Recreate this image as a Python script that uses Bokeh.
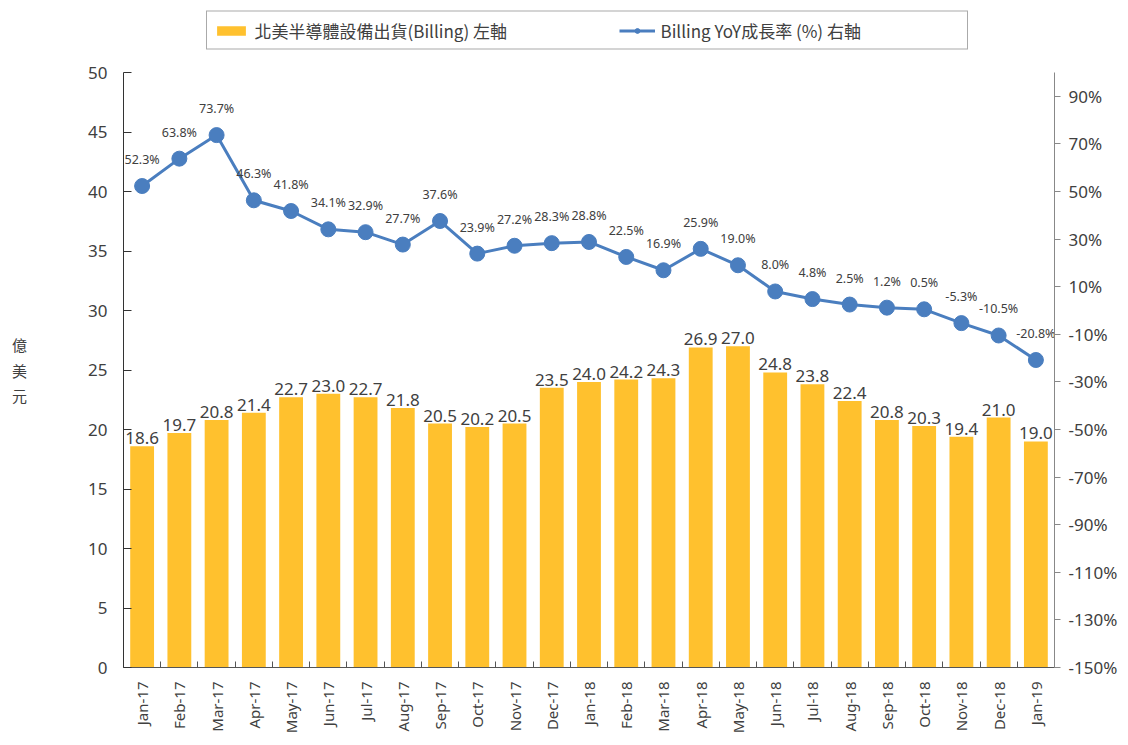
import math
from bokeh.plotting import figure
from bokeh.layouts import column
from bokeh.models import (Range1d, LinearAxis, FixedTicker, PrintfTickFormatter,
                          ColumnDataSource, Legend, LegendItem)
from bokeh.core.properties import value
from bokeh.embed import file_html
from bokeh.resources import INLINE

months = ["Jan-17", "Feb-17", "Mar-17", "Apr-17", "May-17", "Jun-17", "Jul-17", "Aug-17",
          "Sep-17", "Oct-17", "Nov-17", "Dec-17", "Jan-18", "Feb-18", "Mar-18", "Apr-18",
          "May-18", "Jun-18", "Jul-18", "Aug-18", "Sep-18", "Oct-18", "Nov-18", "Dec-18", "Jan-19"]
billing = [18.6, 19.7, 20.8, 21.4, 22.7, 23.0, 22.7, 21.8, 20.5, 20.2, 20.5, 23.5, 24.0,
           24.2, 24.3, 26.9, 27.0, 24.8, 23.8, 22.4, 20.8, 20.3, 19.4, 21.0, 19.0]
yoy = [52.3, 63.8, 73.7, 46.3, 41.8, 34.1, 32.9, 27.7, 37.6, 23.9, 27.2, 28.3, 28.8,
       22.5, 16.9, 25.9, 19.0, 8.0, 4.8, 2.5, 1.2, 0.5, -5.3, -10.5, -20.8]
left_ticks = [0, 5, 10, 15, 20, 25, 30, 35, 40, 45, 50]
right_ticks = [-150, -130, -110, -90, -70, -50, -30, -10, 10, 30, 50, 70, 90]

bar_name = "北美半導體設備出貨(Billing) 左軸"
line_name = "Billing YoY成長率 (%) 右軸"

BAR_COLOR = "#FFC12E"
LINE_COLOR = "#4A7EBF"
TEXT_COLOR = "#404040"
NUM_FONT = "Noto Sans"
CJK_FONT = "Noto Sans CJK TC"

xs = list(range(len(months)))
src = ColumnDataSource(dict(
    x=xs, bill=billing, yoy=yoy,
    bill_txt=[f"{v:.1f}" for v in billing],
    yoy_txt=[f"{v:.1f}%" for v in yoy],
))

p = figure(frame_width=931, frame_height=595, output_backend="svg", toolbar_location=None,
           x_range=Range1d(-0.5, len(months) - 0.5), y_range=Range1d(0, 50),
           min_border_left=123, min_border_right=60, min_border_top=12, min_border_bottom=62)
p.extra_y_ranges = {"pct": Range1d(-150, 100)}
p.outline_line_color = None
p.xgrid.grid_line_color = None
p.ygrid.grid_line_color = None
p.background_fill_color = "white"

bars = p.vbar(x="x", top="bill", width=0.64, source=src, fill_color=BAR_COLOR, line_color=None)
line = p.line(x="x", y="yoy", source=src, y_range_name="pct", line_color=LINE_COLOR, line_width=3)
dots = p.scatter(x="x", y="yoy", source=src, y_range_name="pct", size=15,
                 fill_color=LINE_COLOR, line_color=LINE_COLOR)

p.text(x="x", y="bill", text="bill_txt", source=src, text_align="center",
       text_baseline="bottom", y_offset=-2, text_font=value(NUM_FONT),
       text_font_size="17px", text_color=TEXT_COLOR)
p.text(x="x", y="yoy", text="yoy_txt", source=src, y_range_name="pct", text_align="center",
       text_baseline="bottom", y_offset=-18, text_font=value(NUM_FONT),
       text_font_size="12.5px", text_color=TEXT_COLOR)

# x axis
xa = p.xaxis[0]
xa.ticker = FixedTicker(ticks=xs, minor_ticks=[i - 0.5 for i in range(len(months) + 1)])
xa.major_label_overrides = {i: m for i, m in enumerate(months)}
xa.major_label_orientation = math.pi / 2
xa.major_tick_line_color = None
xa.minor_tick_in = 6
xa.minor_tick_out = 0
xa.minor_tick_line_color = "#555555"
xa.axis_line_color = "#555555"
xa.major_label_text_font = NUM_FONT
xa.major_label_text_font_size = "15px"
xa.major_label_text_color = TEXT_COLOR
xa.major_label_standoff = 8

# left axis
ya = p.yaxis[0]
ya.ticker = FixedTicker(ticks=left_ticks)
ya.minor_tick_line_color = None
ya.major_tick_in = 8
ya.major_tick_out = 0
ya.axis_line_color = "#333333"
ya.major_tick_line_color = "#333333"
ya.major_label_text_font = NUM_FONT
ya.major_label_text_font_size = "17px"
ya.major_label_text_color = TEXT_COLOR
ya.major_label_standoff = 16
ya.axis_label = "億\n美\n元"
ya.axis_label_orientation = "horizontal"
ya.axis_label_text_font = CJK_FONT
ya.axis_label_text_font_style = "normal"
ya.axis_label_text_font_size = "15px"
ya.axis_label_text_color = TEXT_COLOR
ya.axis_label_standoff = 58

# right axis
ra = LinearAxis(y_range_name="pct", ticker=FixedTicker(ticks=right_ticks),
                formatter=PrintfTickFormatter(format="%d%%"))
ra.minor_tick_line_color = None
ra.major_tick_in = 0
ra.major_tick_out = 6
ra.axis_line_color = "#888888"
ra.major_tick_line_color = "#888888"
ra.major_label_text_font = NUM_FONT
ra.major_label_text_font_size = "17px"
ra.major_label_text_color = TEXT_COLOR
ra.major_label_standoff = 8
p.add_layout(ra, "right")

# legend strip: a separate figure above the chart; its renderers share the data
# but its ranges lie just beyond the data, so only the legend shows
lf = figure(width=1116, height=60, output_backend="svg", toolbar_location=None,
            x_range=Range1d(30, 31), y_range=Range1d(90, 91),
            x_axis_type=None, y_axis_type=None,
            min_border_left=70, min_border_right=0, min_border_top=0, min_border_bottom=0)
lf.outline_line_color = None
lf.xgrid.grid_line_color = None
lf.ygrid.grid_line_color = None
lb = lf.vbar(x="x", top="bill", width=0.64, source=src, fill_color=BAR_COLOR, line_color=None)
ll = lf.line(x="x", y="yoy", source=src, line_color=LINE_COLOR, line_width=3)
ld = lf.scatter(x="x", y="yoy", source=src, size=7, fill_color=LINE_COLOR, line_color=LINE_COLOR)

legend = Legend(items=[LegendItem(label=bar_name, renderers=[lb]),
                       LegendItem(label=line_name, renderers=[ll, ld])],
                orientation="horizontal", location="center")
legend.label_text_font = CJK_FONT
legend.label_text_font_size = "17px"
legend.label_text_color = TEXT_COLOR
legend.border_line_color = "#555555"
legend.border_line_width = 1
legend.padding = 6
legend.spacing = 64
legend.glyph_width = 36
legend.glyph_height = 12
legend.label_standoff = 6
legend.label_width = 300
legend.margin = 0
legend.label_height = 20
lf.add_layout(legend, "center")

layout = column(lf, p, spacing=0)
open("out.html", "w").write(file_html(layout, INLINE))
